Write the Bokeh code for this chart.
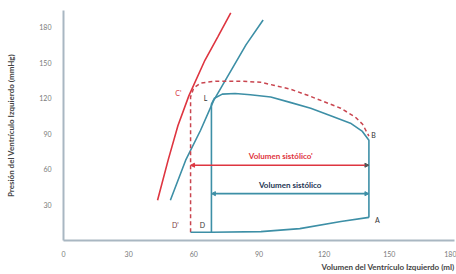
from bokeh.plotting import figure
from bokeh.models import FixedTicker, Label, Arrow, NormalHead, Title
from bokeh.embed import file_html
from bokeh.resources import INLINE

# ---- data (volume ml, pressure mmHg) ----
x_ticks = [0, 30, 60, 90, 120, 150, 180]
y_ticks = [30, 60, 90, 120, 150, 180]

# end-systolic pressure-volume relation, increased contractility (red)
espvr_red_vol = [43.3, 48.2, 52.7, 57.7, 65.1, 71.1, 77.0]
espvr_red_pres = [34, 68, 97, 122, 152, 172, 192]

# end-systolic pressure-volume relation, normal (teal)
espvr_vol = [49.2, 56.2, 63.1, 69.1, 74.5, 84.0, 91.9]
espvr_pres = [34, 67.5, 93, 118, 135, 165, 186]

# normal loop (solid): D -> L -> top -> B -> A
loop_vol = [68.1, 68.1, 69.5, 73.1, 79.0, 86.0, 95.4, 104.3, 113.8, 122.7, 132.1, 137.6, 140.6, 140.6]
loop_pres = [7, 115, 120, 123.5, 124, 123, 121, 116.5, 111.5, 105.5, 99, 92, 84.5, 19.5]

# end-diastolic filling curve (bottom), D' -> A
edpvr_vol = [58.5, 68.1, 90.9, 108.8, 127.7, 140.6]
edpvr_pres = [7, 7, 7.5, 10, 16, 19.5]

# loop with increased contractility (dashed): D' -> C' -> top -> B
loop2_vol = [58.5, 58.5, 59.9, 63.0, 70.0, 81.5, 90.7, 96.7, 104.5, 112.4, 120.6, 127.6, 134.4, 137.7, 140.6]
loop2_pres = [7, 121, 128.5, 132.7, 134.4, 134.4, 133.5, 131, 127.6, 122.5, 116.6, 111.6, 104, 98, 88]

# stroke volume arrows
sv2_start, sv2_end, sv2_pres = 58.5, 140.6, 63.5
sv_start, sv_end, sv_pres = 68.1, 140.6, 39.5

point_labels = ["C'", "L", "B", "A", "D'", "D"]
point_vol = [52.9, 65.4, 142.7, 144.5, 51.5, 64.0]
point_pres = [124, 120, 89, 17, 12.7, 12.7]
point_colors = ["#d8343f", "#333333", "#333333", "#333333", "#7a3a44", "#333333"]

RED = "#de3540"
TEAL = "#3d8fa6"
NAVY = "#1e3553"

p = figure(width=456, height=274, x_range=(0, 180), y_range=(0, 194),
           output_backend="svg", toolbar_location=None,
           min_border_left=63, min_border_right=2, min_border_top=10, min_border_bottom=34)
p.outline_line_color = None
p.grid.visible = False
p.background_fill_color = "white"

for ax in (p.xaxis[0], p.yaxis[0]):
    ax.axis_line_color = "#a9b7c2"
    ax.axis_line_width = 2
    ax.major_tick_line_color = None
    ax.minor_tick_line_color = None
    ax.major_label_text_font = "Lato"
    ax.major_label_text_font_size = "7px"
    ax.major_label_text_color = "#7a7a7a"

p.xaxis.ticker = FixedTicker(ticks=x_ticks)
p.yaxis.ticker = FixedTicker(ticks=y_ticks)
p.xaxis.major_label_standoff = 4
p.yaxis.major_label_standoff = 6
p.yaxis.axis_label = "Presión del Ventrículo Izquierdo (mmHg)"
p.yaxis.axis_label_text_font = "Lato"
p.yaxis.axis_label_text_font_style = "bold"
p.yaxis.axis_label_text_font_size = "8px"
p.yaxis.axis_label_text_color = "#444444"
p.yaxis.axis_label_standoff = 20

# x-axis title, right aligned under the axis
p.add_layout(Title(text="Volumen del Ventrículo Izquierdo (ml)", align="right",
                   text_font="Lato", text_font_style="bold", text_font_size="8px",
                   text_color="#444444", standoff=0), "below")

# curves
p.line(espvr_red_vol, espvr_red_pres, color=RED, line_width=1.6)
p.line(espvr_vol, espvr_pres, color=TEAL, line_width=1.6)
p.line(loop2_vol, loop2_pres, color="#c9454f", line_width=1.5, line_dash="4 3")
p.line(loop_vol, loop_pres, color=TEAL, line_width=1.6)
p.line(edpvr_vol, edpvr_pres, color=TEAL, line_width=1.6)

# arrows
p.add_layout(Arrow(x_start=sv2_start, y_start=sv2_pres, x_end=sv2_end, y_end=sv2_pres,
                   line_color=RED, line_width=1.6,
                   start=NormalHead(size=4, fill_color=RED, line_color=RED),
                   end=NormalHead(size=4, fill_color="#555555", line_color="#555555")))
p.add_layout(Arrow(x_start=sv_start, y_start=sv_pres, x_end=sv_end, y_end=sv_pres,
                   line_color=TEAL, line_width=1.6,
                   start=NormalHead(size=4, fill_color=TEAL, line_color=TEAL),
                   end=NormalHead(size=4, fill_color=TEAL, line_color=TEAL)))

p.add_layout(Label(x=(sv2_start + sv2_end) / 2 + 0.5, y=sv2_pres + 3.5, text="Volumen sistólico'",
                   text_font="Lato", text_font_style="bold", text_font_size="8px",
                   text_color=RED, text_align="center", text_baseline="bottom"))
p.add_layout(Label(x=(sv_start + sv_end) / 2, y=sv_pres + 3.5, text="Volumen sistólico",
                   text_font="Lato", text_font_style="bold", text_font_size="8px",
                   text_color=NAVY, text_align="center", text_baseline="bottom"))

for t, vx, vy, c in zip(point_labels, point_vol, point_pres, point_colors):
    p.add_layout(Label(x=vx, y=vy, text=t, text_font="Lato", text_font_size="7px",
                       text_color=c, text_align="center", text_baseline="middle"))

open("out.html", "w").write(file_html(p, INLINE))
